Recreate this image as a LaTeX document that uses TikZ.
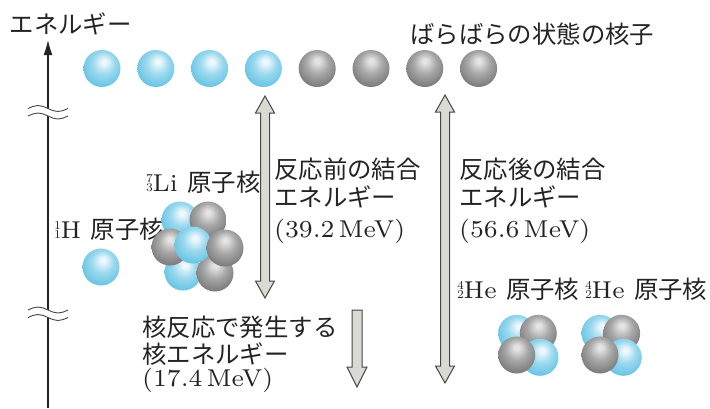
\documentclass[tikz,border=0pt]{standalone}
\usepackage{fontspec}
\setmainfont{lmroman7-regular.otf}
\newfontfamily\jp{Noto Sans CJK JP}
\usetikzlibrary{arrows.meta,calc}

\definecolor{ink}{RGB}{35,35,35}
\definecolor{pEdge}{RGB}{100,195,228}
\definecolor{pMid}{RGB}{155,217,238}
\definecolor{pHi}{RGB}{238,248,252}
\definecolor{nEdge}{RGB}{120,120,120}
\definecolor{nMid}{RGB}{168,168,168}
\definecolor{nHi}{RGB}{228,228,228}
\definecolor{arrowfill}{RGB}{218,218,212}
\definecolor{arrowline}{RGB}{70,70,70}

% shaded spheres for protons and neutrons
\pgfdeclareradialshading{protonball}{\pgfpoint{3bp}{10bp}}{%
  color(0bp)=(pHi); color(3bp)=(pHi); color(15bp)=(pMid);
  color(30bp)=(pEdge); color(50bp)=(pEdge)}
\pgfdeclareradialshading{neutronball}{\pgfpoint{0bp}{11bp}}{%
  color(0bp)=(nHi); color(3bp)=(nHi); color(15bp)=(nMid);
  color(30bp)=(nEdge); color(50bp)=(nEdge)}

% mass number over atomic number
\newcommand{\nuc}[2]{{\fontsize{12}{12}\selectfont
  \makebox[6.5pt][c]{\raisebox{8.5pt}{#1}}\kern-6.5pt\makebox[6.5pt][c]{#2}}}

\tikzset{
  nucleon/.style={circle, inner sep=0pt, minimum size=37pt, shade},
  proton/.style={nucleon, shading=protonball},
  neutron/.style={nucleon, shading=neutronball},
  txt/.style={anchor=base west, inner sep=0pt, text=ink,
    font=\fontsize{24.4}{28}\selectfont},
  arrowshape/.style={fill=arrowfill, draw=arrowline, line width=1pt,
    line join=miter},
  axisline/.style={draw=ink, line width=1.4pt,
    -{Latex[length=15pt,width=9pt]}},
  breakmark/.style={draw=arrowline, line width=0.9pt},
}

\begin{document}
\begin{tikzpicture}[x=1pt,y=-1pt]
\useasboundingbox (0,0) rectangle (710,408);

% energy axis
\coordinate (axB) at (48,408);
\coordinate (axT) at (48,40);
\draw[axisline] (axB) -- (axT);
\node[txt] (title-e) at (9.5,33) {\jp エネルギー};

% axis break marks
\foreach \y in {108.5,310}{
  \fill[white] (28,\y) sin (38,\y-3) cos (48,\y) sin (58,\y+3) cos (68,\y)
    -- (68,\y+7.5) sin (58,\y+10.5) cos (48,\y+7.5) sin (38,\y+4.5)
    cos (28,\y+7.5) -- cycle;
  \draw[breakmark] (28,\y) sin (38,\y-3) cos (48,\y) sin (58,\y+3) cos (68,\y);
  \draw[breakmark] (28,\y+7.5) sin (38,\y+4.5) cos (48,\y+7.5) sin (58,\y+10.5) cos (68,\y+7.5);
}

% separated nucleons
\foreach \i in {1,...,4}{
  \node[proton] (p\i) at ({102+53.8*(\i-1)},68.5) {};
  \node[neutron] (n\i) at ({317.2+53.8*(\i-1)},68.5) {};
}
\node[txt] (title-free) at (410,43.5) {\jp ばらばらの状態の核子};

% hydrogen nucleus
\node[txt] (lbl-h) at (54,238) {\nuc{1}{1}H {\jp 原子核}};
\node[proton] (h1) at (101,267) {};

% lithium nucleus
\node[txt] (lbl-li) at (146,191) {\nuc{7}{3}Li {\jp 原子核}};
\node[proton]  (li-p1) at (180,220) {};
\node[neutron] (li-n1) at (208,220) {};
\node[proton]  (li-p3) at (183,272) {};
\node[neutron] (li-n4) at (215,273) {};
\node[neutron] (li-n2) at (170,247) {};
\node[proton]  (li-p2) at (193,245) {};
\node[neutron] (li-n3) at (225,248) {};

% helium nuclei
\node[txt] (lbl-he1) at (457,298) {\nuc{4}{2}He {\jp 原子核}};
\node[txt] (lbl-he2) at (585,298) {\nuc{4}{2}He {\jp 原子核}};
\foreach \k/\dx in {a/0,b/83.3}{
  \node[proton]  (he\k-p1) at (516.7+\dx,333.3) {};
  \node[neutron] (he\k-n1) at (538.3+\dx,333.3) {};
  \node[proton]  (he\k-p2) at (540+\dx,357.3) {};
  \node[neutron] (he\k-n2) at (516.7+\dx,355) {};
}

% binding energy before the reaction
\coordinate (eaT) at (265,96);
\coordinate (eaB) at (265,298);
\draw[arrowshape] (eaT) -- ($(eaT)+(9.5,17)$) -- ($(eaT)+(4.5,17)$)
  -- ($(eaB)+(4.5,-17)$) -- ($(eaB)+(9.5,-17)$) -- (eaB)
  -- ($(eaB)+(-9.5,-17)$) -- ($(eaB)+(-4.5,-17)$)
  -- ($(eaT)+(-4.5,17)$) -- ($(eaT)+(-9.5,17)$) -- cycle;
\node[txt] (before1) at (274,178.5) {\jp 反応前の結合};
\node[txt] (before2) at (274,206.5) {\jp エネルギー};
\node[txt] (before3) at (274,237) {(39.2\,MeV)};

% binding energy after the reaction
\coordinate (ebT) at (445,95);
\coordinate (ebB) at (445,383);
\draw[arrowshape] (ebT) -- ($(ebT)+(9.5,17)$) -- ($(ebT)+(4.5,17)$)
  -- ($(ebB)+(4.5,-17)$) -- ($(ebB)+(9.5,-17)$) -- (ebB)
  -- ($(ebB)+(-9.5,-17)$) -- ($(ebB)+(-4.5,-17)$)
  -- ($(ebT)+(-4.5,17)$) -- ($(ebT)+(-9.5,17)$) -- cycle;
\node[txt] (after1) at (459,178.5) {\jp 反応後の結合};
\node[txt] (after2) at (459,206.5) {\jp エネルギー};
\node[txt] (after3) at (459,237) {(56.6\,MeV)};

% released nuclear energy
\coordinate (rT) at (357,310);
\coordinate (rB) at (357,387);
\draw[arrowshape] ($(rT)+(-5,0)$) -- ($(rT)+(5,0)$) -- ($(rB)+(5,-20)$)
  -- ($(rB)+(10,-20)$) -- (rB) -- ($(rB)+(-10,-20)$)
  -- ($(rB)+(-5,-20)$) -- cycle;
\node[txt] (rel1) at (142,336.5) {\jp 核反応で発生する};
\node[txt] (rel2) at (142,363.5) {\jp 核エネルギー};
\node[txt] (rel3) at (142,386) {(17.4\,MeV)};
\end{tikzpicture}
\end{document}
